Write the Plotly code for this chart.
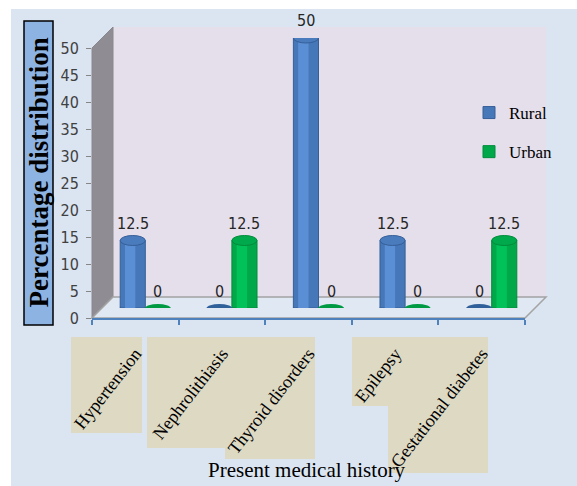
import plotly.graph_objects as go

# ---------------- data ----------------
categories = ["Hypertension", "Nephrolithiasis", "Thyroid disorders", "Epilepsy", "Gestational diabetes"]
rural = [12.5, 0, 50, 12.5, 0]
urban = [0, 12.5, 0, 0, 12.5]
series_names = ["Rural", "Urban"]
y_ticks = [0, 5, 10, 15, 20, 25, 30, 35, 40, 45, 50]

W, H = 577, 486
def px(x): return x / W
def py(y): return (H - y) / H

SERIF = "Liberation Serif, Times New Roman, serif"
NARROW = "Liberation Sans Narrow, DejaVu Sans Condensed, Arial Narrow, sans-serif"

idx = list(range(len(categories)))
off = 0.145
bw = 0.29
series = [
    dict(name=series_names[0], vals=rural, pos=-off, body="#4677b8", edge="#365f98", hi="#5b8fd5", top="#4a7bbd", zero="#30609a"),
    dict(name=series_names[1], vals=urban, pos=off, body="#00a84a", edge="#008c3c", hi="#00c258", top="#00a94b", zero="#009a43"),
]

fig = go.Figure()
# carrier trace so that the front (visible) category / value axes get drawn
fig.add_trace(go.Scatter(x=idx, y=[0] * len(idx), mode="markers", marker=dict(opacity=0),
                         showlegend=False, hoverinfo="skip", xaxis="x", yaxis="y"))
for k, s in enumerate(series):
    xs = [i + s["pos"] for i in idx]
    fig.add_trace(go.Bar(
        x=xs, y=s["vals"], width=bw, name=s["name"], xaxis="x2", yaxis="y2",
        marker=dict(color=s["body"], line=dict(color=s["edge"], width=1)),
        legendgroup=s["name"], hoverinfo="skip"))
    fig.add_trace(go.Bar(
        x=[x - 0.03 for x in xs], y=s["vals"], width=0.12, showlegend=False,
        xaxis="x2", yaxis="y2", marker=dict(color=s["hi"], line=dict(width=0)),
        hoverinfo="skip"))

shapes = []
shapes.append(dict(type="rect", xref="paper", yref="paper", x0=px(11), x1=px(577), y0=py(9), y1=py(486),
                   fillcolor="#dbe5f1", line=dict(width=0), layer="below"))
shapes.append(dict(type="rect", xref="paper", yref="paper", x0=px(113), x1=px(546), y0=py(297), y1=py(27),
                   fillcolor="#e5dfec", line=dict(width=0), layer="below"))
shapes.append(dict(type="path", xref="paper", yref="paper",
                   path=f"M{px(92)},{py(48)} L{px(113)},{py(27)} L{px(113)},{py(297)} L{px(92)},{py(318)} Z",
                   fillcolor="#8f8d93", line=dict(color="#8a888e", width=1), layer="below"))
shapes.append(dict(type="path", xref="paper", yref="paper",
                   path=f"M{px(92)},{py(318)} L{px(113)},{py(297)} L{px(546)},{py(297)} L{px(525)},{py(318)} Z",
                   fillcolor="#dfe8f3", line=dict(color="#a3a3a3", width=1.5), layer="below"))
shapes.append(dict(type="rect", xref="paper", yref="paper", x0=px(24), x1=px(53), y0=py(325), y1=py(21),
                   fillcolor="#8db3e2", line=dict(color="black", width=1.5), layer="below"))
for (x0, y0, x1, y1) in [(71, 337, 142, 433), (147, 337, 225, 448), (225, 337, 315, 459),
                         (352, 337, 388, 406), (388, 337, 488, 473)]:
    shapes.append(dict(type="rect", xref="paper", yref="paper", x0=px(x0), x1=px(x1), y0=py(y1), y1=py(y0),
                       fillcolor="#ddd9c3", line=dict(width=0), layer="below"))

annotations = []
for s in series:
    for i, v in zip(idx, s["vals"]):
        xc = i + s["pos"]
        if v > 0:
            shapes.append(dict(type="circle", xref="x2", yref="y2", x0=xc - bw / 2, x1=xc + bw / 2,
                               ysizemode="pixel", yanchor=0, y0=-5, y1=5,
                               fillcolor=s["body"], line=dict(color=s["edge"], width=1), layer="below"))
            shapes.append(dict(type="circle", xref="x2", yref="y2", x0=xc - bw / 2, x1=xc + bw / 2,
                               ysizemode="pixel", yanchor=v, y0=-5, y1=5,
                               fillcolor=s["top"], line=dict(color=s["edge"], width=1)))
        else:
            shapes.append(dict(type="circle", xref="x2", yref="y2", x0=xc - bw / 2, x1=xc + bw / 2,
                               ysizemode="pixel", yanchor=0, y0=-4, y1=4,
                               fillcolor=s["zero"], line=dict(width=0)))
        annotations.append(dict(x=xc, y=v, xref="x2", yref="y2", text=f"{v:g}", showarrow=False,
                                yshift=17, yanchor="middle",
                                font=dict(family=NARROW, size=16, color="#262626")))

annotations.append(dict(x=px(38.5), y=py(173), xref="paper", yref="paper", text="<b>Percentage distribution</b>",
                        textangle=-90, showarrow=False, xanchor="center", yanchor="middle",
                        font=dict(family=SERIF, size=27, color="black")))
annotations.append(dict(x=px(307), y=py(470), xref="paper", yref="paper", text="Present medical history",
                        showarrow=False, xanchor="center", yanchor="middle",
                        font=dict(family=SERIF, size=21, color="black")))

fig.update_layout(
    width=W, height=H, margin=dict(l=0, r=0, t=0, b=0, autoexpand=False),
    paper_bgcolor="white", plot_bgcolor="rgba(0,0,0,0)",
    barmode="overlay", showlegend=True,
    xaxis=dict(domain=[px(92), px(525)], anchor="y", range=[-0.5, len(categories) - 0.5], automargin=False,
               tickmode="array", tickvals=idx, ticktext=categories, ticks="",
               tickangle=-52, ticklabelstandoff=16,
               tickfont=dict(family=SERIF, size=18, color="black"),
               showline=True, linecolor="#4f81bd", linewidth=2, showgrid=False, zeroline=False,
               minor=dict(tickmode="array", tickvals=[i - 0.5 for i in range(len(categories) + 1)],
                          ticks="outside", ticklen=5, tickcolor="#4f81bd", tickwidth=1.5, showgrid=False),
               fixedrange=True),
    yaxis=dict(domain=[py(318), py(48)], anchor="x", range=[0, 50], tickmode="array", tickvals=y_ticks,
               automargin=False,
               ticks="outside", ticklen=5, tickcolor="#868686", showline=False, showgrid=False, zeroline=False,
               tickfont=dict(family=NARROW, size=16, color="#404040"), ticklabelstandoff=4, fixedrange=True),
    xaxis2=dict(domain=[px(102), px(535)], anchor="y2", range=[-0.5, len(categories) - 0.5], visible=False,
                automargin=False),
    yaxis2=dict(domain=[py(308), py(38)], anchor="x2", range=[0, 50], visible=False, automargin=False),
    legend=dict(x=px(469), y=py(95), xanchor="left", yanchor="top", bgcolor="rgba(0,0,0,0)",
                font=dict(family=SERIF, size=17, color="black"), tracegroupgap=14, itemwidth=30),
    shapes=shapes, annotations=annotations,
)

fig.write_html("out.html")
